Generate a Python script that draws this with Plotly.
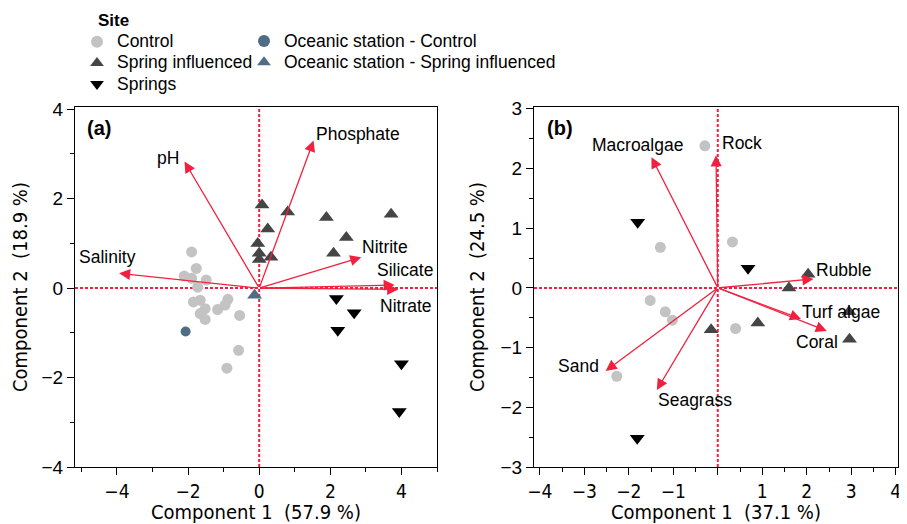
import plotly.graph_objects as go

# ---------------- Panel (a) data ----------------
a_ctrl_x = [-1.90, -1.77, -2.11, -1.49, -1.73, -1.90, -1.85, -1.66, -1.52, -1.66, -1.52, -1.17, -0.88, -0.96, -0.55, -0.58, -0.91]
a_ctrl_y = [0.81, 0.44, 0.27, 0.18, 0.02, 0.22, -0.31, -0.27, -0.46, -0.57, -0.70, -0.48, -0.25, -0.38, -0.61, -1.39, -1.79]
a_sinf_x = [0.08, 0.80, 0.24, -0.04, 0.00, 0.00, 0.33, 1.89, 2.45, 2.09, 3.71]
a_sinf_y = [1.86, 1.70, 1.32, 1.00, 0.78, 0.64, 0.69, 1.58, 1.13, 0.78, 1.65]
a_spr_x = [2.17, 2.67, 2.21, 4.00, 3.94]
a_spr_y = [-0.23, -0.55, -0.94, -1.69, -2.76]
a_oc_ctrl_x = [-2.07]
a_oc_ctrl_y = [-0.97]
a_oc_sinf_x = [-0.13]
a_oc_sinf_y = [-0.16]

a_vars = ["pH", "Phosphate", "Salinity", "Nitrite", "Silicate", "Nitrate"]
a_vec_x = [-2.10, 1.53, -3.94, 2.87, 3.81, 3.91]
a_vec_y = [2.83, 3.30, 0.33, 0.69, 0.07, -0.03]
a_lab_x = [-2.56, 2.78, -4.26, 3.55, 4.11, 4.13]
a_lab_y = [2.91, 3.45, 0.70, 0.91, 0.40, -0.40]

# ---------------- Panel (b) data ----------------
b_ctrl_x = [-0.29, 0.33, -1.29, -1.52, -1.18, -1.02, 0.40, -2.27]
b_ctrl_y = [2.38, 0.77, 0.68, -0.21, -0.40, -0.54, -0.68, -1.48]
b_sinf_x = [2.03, 1.60, 2.95, 0.90, -0.15, 2.96]
b_sinf_y = [0.23, 0.00, -0.40, -0.59, -0.70, -0.86]
b_spr_x = [-1.80, 0.68, -1.81]
b_spr_y = [1.10, 0.33, -2.52]

b_vars = ["Macroalgae", "Rock", "Rubble", "Turf algae", "Coral", "Sand", "Seagrass"]
b_vec_x = [-1.49, -0.04, 2.15, 1.87, 2.45, -2.52, -1.37]
b_vec_y = [2.19, 2.22, 0.15, -0.52, -0.72, -1.39, -1.71]
b_lab_x = [-1.80, 0.55, 2.82, 2.77, 2.24, -3.12, -0.51]
b_lab_y = [2.40, 2.43, 0.30, -0.41, -0.90, -1.30, -1.88]

a_xticks = [-4, -2, 0, 2, 4]
a_yticks = [-4, -2, 0, 2, 4]
b_xticks = [-4, -3, -2, -1, 0, 1, 2, 3, 4]
b_xticklabels = ["−4", "−3", "−2", "−1", "", "1", "2", "3", "4"]
b_yticks = [-3, -2, -1, 0, 1, 2, 3]

C_CTRL = "#c3c3c3"
C_SINF = "#454545"
C_SPR = "#000000"
C_OC = "#4f6d84"
RED = "#f2203f"
FONT = "Liberation Sans, Arial, sans-serif"
NARROW = "Liberation Sans Narrow, DejaVu Sans Condensed, Liberation Sans, sans-serif"

# the page body has an 8px margin: figure is 899x516 placed at (8, 8)
W, H = 899, 516
OFF = 8

def px(v):
    return (v - OFF) / W

def py(v):
    return 1 - (v - OFF) / H

fig = go.Figure()

def big(s):
    return '<span style="font-size:17.5px">' + s + '</span>'

def add(x, y, name, sym, color, size, xa, ya, show, legend="legend"):
    fig.add_trace(go.Scatter(
        x=x, y=y, mode="markers", name=big(name), showlegend=show, legend=legend,
        marker=dict(symbol=sym, color=color, size=size, line=dict(width=0)),
        xaxis=xa, yaxis=ya))

# panel a
add(a_ctrl_x, a_ctrl_y, "Control", "circle", C_CTRL, 11, "x", "y", True)
add(a_sinf_x, a_sinf_y, "Spring influenced", "triangle-up", C_SINF, 13, "x", "y", True)
add(a_spr_x, a_spr_y, "Springs", "triangle-down", C_SPR, 13, "x", "y", True)
add(a_oc_ctrl_x, a_oc_ctrl_y, "Oceanic station - Control", "circle", C_OC, 10, "x", "y", True, "legend2")
add(a_oc_sinf_x, a_oc_sinf_y, "Oceanic station - Spring influenced", "triangle-up", C_OC, 13, "x", "y", True, "legend2")
# panel b
add(b_ctrl_x, b_ctrl_y, "Control", "circle", C_CTRL, 11, "x2", "y2", False)
add(b_sinf_x, b_sinf_y, "Spring influenced", "triangle-up", C_SINF, 13, "x2", "y2", False)
add(b_spr_x, b_spr_y, "Springs", "triangle-down", C_SPR, 13, "x2", "y2", False)

annotations = []
shapes = []

def zero_lines(xr, yr, xref, yref):
    shapes.append(dict(type="line", xref=xref, yref=yref, x0=0, x1=0, y0=yr[0], y1=yr[1],
                       line=dict(color=RED, width=2, dash="3px,2px"), layer="below"))
    shapes.append(dict(type="line", xref=xref, yref=yref, x0=xr[0], x1=xr[1], y0=0, y1=0,
                       line=dict(color=RED, width=2, dash="3px,2px"), layer="below"))

def vectors(names, vx, vy, lx, ly, xref, yref):
    for n, x, y, tx, ty in zip(names, vx, vy, lx, ly):
        annotations.append(dict(x=x, y=y, ax=0, ay=0, xref=xref, yref=yref,
                                axref=xref, ayref=yref, showarrow=True, text="",
                                arrowhead=2, arrowsize=1.7, arrowwidth=1.3, arrowcolor=RED))
        annotations.append(dict(x=tx, y=ty, xref=xref, yref=yref, text=n, showarrow=False,
                                font=dict(family=FONT, size=17.5, color="black")))

a_xr = [-5.18, 5.0]
a_yr = [-4.0, 4.05]
b_xr = [-4.13, 4.05]
b_yr = [-3.0, 3.03]

zero_lines(a_xr, a_yr, "x", "y")
zero_lines(b_xr, b_yr, "x2", "y2")
vectors(a_vars, a_vec_x, a_vec_y, a_lab_x, a_lab_y, "x", "y")
vectors(b_vars, b_vec_x, b_vec_y, b_lab_x, b_lab_y, "x2", "y2")

annotations.append(dict(x=-4.5, y=3.58, xref="x", yref="y", text="<b>(a)</b>", showarrow=False,
                        font=dict(family=FONT, size=20, color="black")))
annotations.append(dict(x=-3.55, y=2.68, xref="x2", yref="y2", text="<b>(b)</b>", showarrow=False,
                        font=dict(family=FONT, size=20, color="black")))

axis_common = dict(showgrid=False, zeroline=False, showline=True, linecolor="black", linewidth=1,
                   mirror=True, ticks="outside", ticklen=7, tickcolor="black", automargin=False)
x_tickfont = dict(family=NARROW, size=19, color="black")
y_tickfont = dict(family=FONT, size=19, color="black")
title_font = dict(family=NARROW, size=20, color="black")

fig.update_layout(
    width=W, height=H,
    margin=dict(l=0, r=0, t=0, b=0, autoexpand=False),
    paper_bgcolor="white", plot_bgcolor="white",
    xaxis=dict(domain=[px(75), px(437)], range=a_xr, tickvals=a_xticks,
               ticktext=["−4", "−2", "0", "2", "4"], tickfont=x_tickfont,
               minor=dict(tickvals=[-5, -3, -1, 1, 3, 5], ticklen=4, ticks="outside", tickcolor="black"),
               title=dict(text="Component 1  (57.9 %)", font=title_font, standoff=6),
               anchor="y", **axis_common),
    yaxis=dict(domain=[py(467), py(107)], range=a_yr, tickvals=a_yticks,
               ticktext=["−4", "−2", "0", "2", "4"], tickfont=y_tickfont,
               minor=dict(tickvals=[-3, -1, 1, 3], ticklen=4, ticks="outside", tickcolor="black"),
               title=dict(text="Component 2  (18.9 %)", font=title_font, standoff=10),
               anchor="x", **axis_common),
    xaxis2=dict(domain=[px(534), px(898)], range=b_xr, tickvals=b_xticks, ticktext=b_xticklabels,
                tickfont=x_tickfont,
                minor=dict(tickvals=[-3.5, -2.5, -1.5, -0.5, 0.5, 1.5, 2.5, 3.5], ticklen=4, ticks="outside", tickcolor="black"),
                title=dict(text="Component 1  (37.1 %)", font=title_font, standoff=6),
                anchor="y2", **axis_common),
    yaxis2=dict(domain=[py(467), py(107)], range=b_yr, tickvals=b_yticks,
                ticktext=["−3", "−2", "−1", "0", "1", "2", "3"], tickfont=y_tickfont,
                minor=dict(tickvals=[-2.5, -1.5, -0.5, 0.5, 1.5, 2.5], ticklen=4, ticks="outside", tickcolor="black"),
                title=dict(text="Component 2  (24.5 %)", font=title_font, standoff=10),
                anchor="x2", **axis_common),
    legend=dict(x=69 / W, y=1 + 4 / H, xanchor="left", yanchor="top", orientation="v",
                title=dict(text="&nbsp;&nbsp;&nbsp;&nbsp;<b>Site</b>", font=dict(family=FONT, size=17, color="black")),
                font=dict(family=FONT, size=14, color="black"), itemsizing="constant",
                bgcolor="rgba(0,0,0,0)", tracegroupgap=0),
    legend2=dict(x=236 / W, y=1 - 17.5 / H, xanchor="left", yanchor="top", orientation="v",
                 font=dict(family=FONT, size=14, color="black"), itemsizing="constant",
                 bgcolor="rgba(0,0,0,0)", tracegroupgap=0),
    annotations=annotations,
    shapes=shapes,
)

fig.write_html("out.html")
